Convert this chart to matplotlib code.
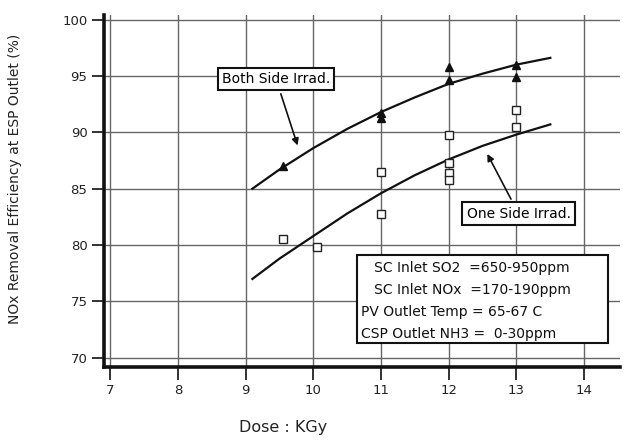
import matplotlib
matplotlib.use("Agg")
import matplotlib.pyplot as plt
from matplotlib.patches import Rectangle

# ---- data ----
both_curve_x = [9.1, 9.5, 10.0, 10.5, 11.0, 11.5, 12.0, 12.5, 13.0, 13.5]
both_curve_y = [85.0, 86.7, 88.6, 90.3, 91.8, 93.1, 94.3, 95.2, 96.0, 96.6]
one_curve_x = [9.1, 9.5, 10.0, 10.5, 11.0, 11.5, 12.0, 12.5, 13.0, 13.5]
one_curve_y = [77.0, 78.8, 80.8, 82.8, 84.6, 86.2, 87.6, 88.8, 89.8, 90.7]

both_pts_x = [9.55, 11.0, 11.0, 12.0, 12.0, 13.0, 13.0]
both_pts_y = [87.0, 91.7, 91.3, 95.8, 94.6, 96.0, 94.9]
one_pts_x = [9.55, 10.05, 11.0, 11.0, 12.0, 12.0, 12.0, 12.0, 13.0, 13.0]
one_pts_y = [80.5, 79.8, 86.5, 82.8, 89.8, 87.3, 86.4, 85.8, 92.0, 90.5]

x_ticks = [7, 8, 9, 10, 11, 12, 13, 14]
y_ticks = [70, 75, 80, 85, 90, 95, 100]

label_both = "Both Side Irrad."
label_one = "One Side Irrad."
cond_lines = ["   SC Inlet SO2  =650-950ppm",
              "   SC Inlet NOx  =170-190ppm",
              "PV Outlet Temp = 65-67 C",
              "CSP Outlet NH3 =  0-30ppm"]
x_label = "Dose : KGy"
y_label = "NOx Removal Efficiency at ESP Outlet (%)"

fig = plt.figure(figsize=(6.27, 4.41), dpi=100)
ax = fig.add_axes([0.166, 0.168, 0.823, 0.798])
ax.set_xlim(6.91, 14.53)
ax.set_ylim(69.2, 100.4)

ax.set_xticks(x_ticks)
ax.set_yticks(y_ticks)
ax.tick_params(direction="out", length=9, width=1.3, colors="#222222",
               labelsize=9.5, pad=3)
for sp in ["top", "right"]:
    ax.spines[sp].set_visible(False)
for sp in ["left", "bottom"]:
    ax.spines[sp].set_linewidth(2.6)
    ax.spines[sp].set_color("#111111")

ax.grid(True, color="#666666", linewidth=1.0)
ax.set_axisbelow(True)

ax.plot(both_curve_x, both_curve_y, color="#111111", lw=1.6)
ax.plot(one_curve_x, one_curve_y, color="#111111", lw=1.6)
ax.plot(both_pts_x, both_pts_y, linestyle="none", marker="^", ms=6,
        mfc="#111111", mec="#111111")
ax.plot(one_pts_x, one_pts_y, linestyle="none", marker="s", ms=6,
        mfc="white", mec="#222222", mew=1.0)

box = dict(boxstyle="square,pad=0.3", fc="white", ec="#111111", lw=1.5)
ax.annotate(label_both, xy=(9.78, 88.6), xytext=(9.45, 94.7),
            fontsize=10, ha="center", va="center", bbox=box,
            arrowprops=dict(arrowstyle="-|>", color="#111111", lw=1.2,
                            mutation_scale=10))
ax.annotate(label_one, xy=(12.55, 88.3), xytext=(13.03, 82.8),
            fontsize=10, ha="center", va="center", bbox=box,
            arrowprops=dict(arrowstyle="-|>", color="#111111", lw=1.2,
                            mutation_scale=10))

ax.add_patch(Rectangle((10.65, 71.3), 3.7, 7.8, fc="white", ec="#111111",
                       lw=1.5, zorder=4, clip_on=False))
for i, line in enumerate(cond_lines):
    ax.text(10.70, 78.0 - i * 1.95, line, fontsize=10, ha="left",
            va="center", zorder=5, color="#111111")

ax.set_xlabel(x_label, fontsize=11.5, color="#222222")
ax.xaxis.set_label_coords(0.347, -0.15)
ax.set_ylabel(y_label, fontsize=10, color="#222222")
ax.yaxis.set_label_coords(-0.16, 0.534)

fig.savefig("out.png", dpi=100, facecolor="white")
